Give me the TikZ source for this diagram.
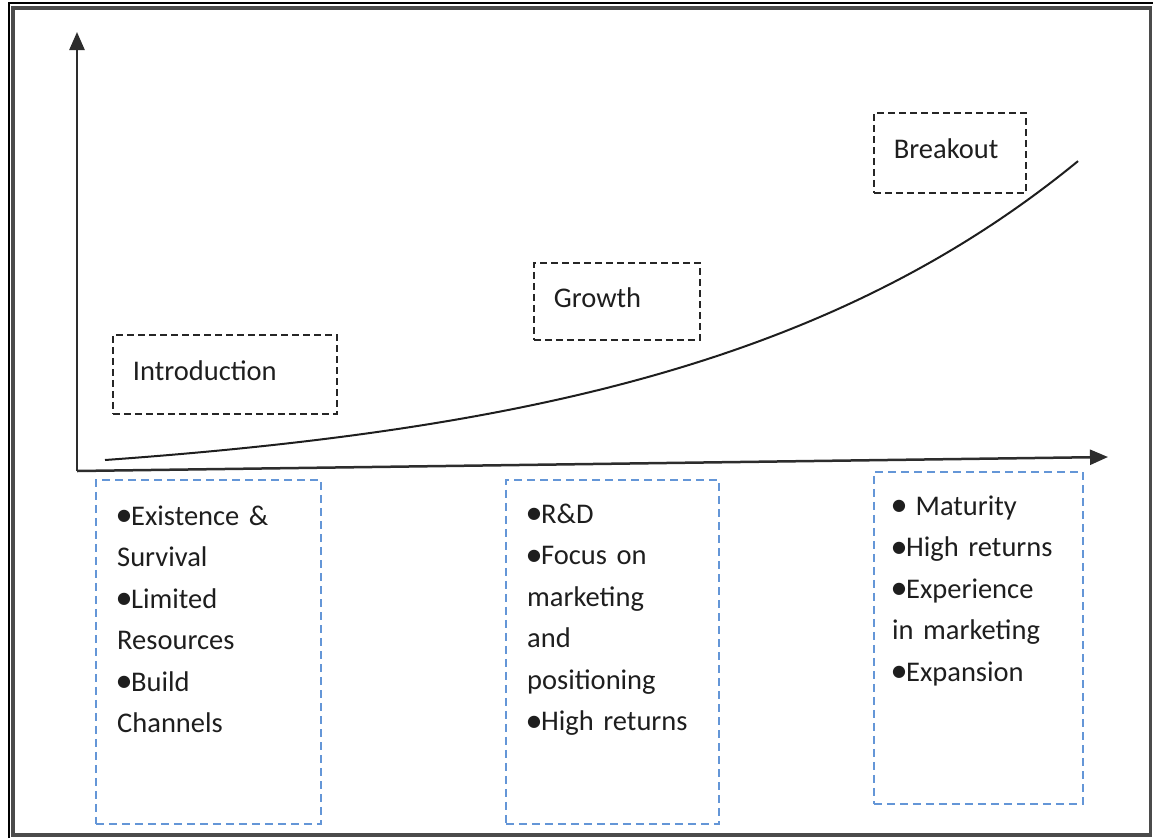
\documentclass[tikz,border=0pt]{standalone}
\usepackage{fontspec}
\setmainfont{Carlito}
\newfontfamily\symfont{DejaVu Sans}
\usetikzlibrary{arrows.meta,calc}
\newcommand{\bul}{{\symfont\fontsize{16}{16}\selectfont\raisebox{4.5pt}{●}}}
\newcommand{\bodyfont}{\fontsize{28.5}{41.5}\selectfont}
\definecolor{axisgray}{RGB}{45,45,45}
\definecolor{framegray}{RGB}{75,75,75}
\definecolor{dashblue}{RGB}{100,150,215}
\definecolor{inkc}{RGB}{30,30,30}
\tikzset{
  stagebox/.style={draw=black!85, line width=1.8pt, dash pattern=on 7pt off 4pt,
    anchor=north west, inner xsep=20pt, inner ysep=0pt, align=left,
    text height=20pt, text depth=8pt,
    font=\bodyfont, text=inkc},
  listbox/.style={draw=dashblue, line width=1.8pt, dash pattern=on 8pt off 5pt,
    anchor=north west, inner sep=0pt},
  listtext/.style={anchor=base west, inner sep=0pt, align=left, font=\bodyfont,
    text=inkc, text width=200pt},
  axisline/.style={draw=axisgray, line width=2.5pt,
    -{Triangle[length=18pt,width=15pt]}},
  curveline/.style={draw=inkc, line width=2pt}
}
\begin{document}
\begin{tikzpicture}[x=1pt,y=-1pt]
\useasboundingbox (0,0) rectangle (1153,838);
% frame
\draw[black, line width=2.5pt] (9,838) -- (9,3) -- (1153,3);
\draw[framegray, line width=3.5pt] (13,8) rectangle (1150.5,835);
% axes
\coordinate (origin) at (77,471);
\coordinate (ytip) at (77,32);
\coordinate (xtip) at (1108,457);
\draw[axisline] (origin) -- (ytip);
\draw[axisline] (origin) -- (xtip);
% curve
\draw[curveline] plot[domain=105:1078, samples=100, smooth]
  (\x, {460-28.7*(exp(0.0025*(\x-105))-1)});
% stage boxes
\node[stagebox, minimum width=224pt, minimum height=79pt, text width=184pt]
  (intro) at (112,334) {Introduction};
\node[stagebox, minimum width=166pt, minimum height=77pt, text width=126pt]
  (growth) at (533,262) {Growth};
\node[stagebox, minimum width=152pt, minimum height=80pt, text width=112pt]
  (breakout) at (873,112) {Breakout};
% list boxes
\node[listbox, minimum width=225pt, minimum height=344pt] (b1) at (95,479) {};
\node[listbox, minimum width=213pt, minimum height=344pt] (b2) at (505,479) {};
\node[listbox, minimum width=209pt, minimum height=332pt] (b3) at (873,471) {};
\node[listtext] (t1) at (117,525)
  {\bul Existence \&\\Survival\\\bul Limited\\Resources\\\bul Build\\Channels};
\node[listtext] (t2) at (527,523)
  {\bul R\&D\\\bul Focus on\\marketing\\and\\positioning\\\bul High returns};
\node[listtext] (t3) at (892,515)
  {\bul\ Maturity\\\bul High returns\\\bul Experience\\in marketing\\\bul Expansion};
\end{tikzpicture}
\end{document}
